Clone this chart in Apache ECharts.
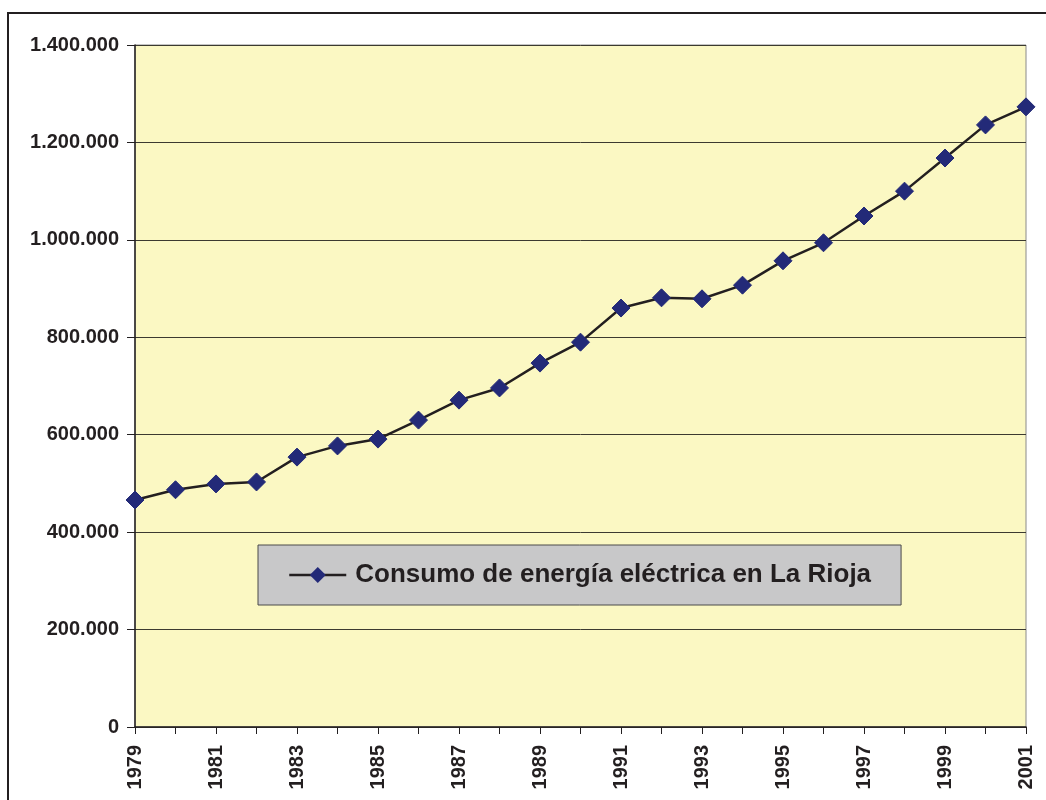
<!DOCTYPE html>
<html>
<head>
<meta charset="utf-8">
<script src="https://cdn.jsdelivr.net/npm/echarts@6/dist/echarts.min.js"></script>
<style>
  html, body { margin: 0; padding: 0; background: #fff; }
  #chart { width: 1046px; height: 800px; }
</style>
</head>
<body>
<div id="chart"></div>
<script>
  // años
  const years = ['1979', '1980', '1981', '1982', '1983', '1984', '1985', '1986', '1987', '1988', '1989', '1990',
    '1991', '1992', '1993', '1994', '1995', '1996', '1997', '1998', '1999', '2000', '2001'];
  // consumo (MWh aprox.)
  const consumo = [466000, 487000, 499000, 503000, 554000, 577000, 591000, 630000, 671000, 696000, 747000, 790000,
    860000, 881000, 879000, 907000, 957000, 994000, 1049000, 1100000, 1168000, 1236000, 1273000];
  const seriesName = 'Consumo de energía eléctrica en La Rioja';
  const yTicks = [0, 200000, 400000, 600000, 800000, 1000000, 1200000, 1400000];

  const fmt = v => String(v).replace(/\B(?=(\d{3})+(?!\d))/g, '.');

  const chart = echarts.init(document.getElementById('chart'));
  chart.setOption({
    animation: false,
    textStyle: { fontFamily: 'Liberation Sans, Arial, sans-serif' },
    graphic: [{
      type: 'rect',
      shape: { x: 8, y: 13, width: 1100, height: 900 },
      style: { fill: 'none', stroke: '#231f20', lineWidth: 2 },
      silent: true
    }],
    grid: {
      left: 135,
      right: 20,
      top: 45,
      bottom: 73,
      show: true,
      backgroundColor: '#fbf8c3',
      borderColor: '#8a8a8a',
      borderWidth: 1
    },
    legend: {
      left: 258,
      top: 545,
      orient: 'horizontal',
      backgroundColor: '#c8c8c9',
      borderColor: '#4a4a4a',
      borderWidth: 1,
      padding: [17, 30, 17, 30],
      itemWidth: 57,
      itemHeight: 20,
      itemGap: 0,
      lineStyle: { width: 2.5, color: '#231f20' },
      textStyle: { fontSize: 26, fontWeight: 'bold', color: '#231f20', padding: [0, 0, 0, 4] },
      data: [seriesName]
    },
    xAxis: {
      type: 'category',
      data: years,
      boundaryGap: false,
      axisLine: { lineStyle: { color: '#231f20', width: 1.5 } },
      axisTick: { show: true, interval: 0, length: 7, lineStyle: { color: '#231f20' } },
      axisLabel: {
        interval: 1,
        rotate: 90,
        fontSize: 20,
        fontWeight: 'bold',
        color: '#231f20',
        margin: 18
      },
      splitLine: { show: false }
    },
    yAxis: {
      type: 'value',
      min: yTicks[0],
      max: yTicks[yTicks.length - 1],
      interval: 200000,
      axisLine: { show: true, lineStyle: { color: '#231f20', width: 1.5 } },
      axisTick: { show: true, length: 8, lineStyle: { color: '#231f20' } },
      axisLabel: {
        fontSize: 20,
        fontWeight: 'bold',
        color: '#231f20',
        margin: 16,
        formatter: fmt
      },
      splitLine: { show: true, lineStyle: { color: '#3c3a30', width: 1 } }
    },
    series: [{
      name: seriesName,
      type: 'line',
      data: consumo,
      symbol: 'diamond',
      symbolSize: 18,
      showAllSymbol: true,
      lineStyle: { color: '#231f20', width: 2.5 },
      itemStyle: { color: '#232a78', borderColor: '#232a78' }
    }]
  });
</script>
</body>
</html>
